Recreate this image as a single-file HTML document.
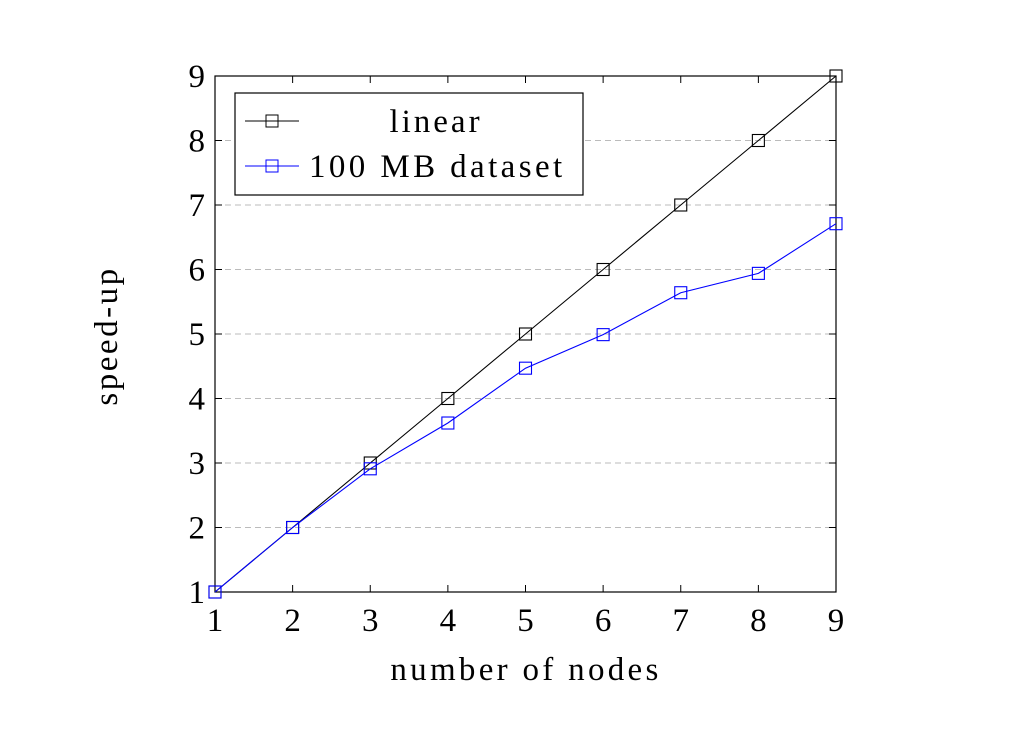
<!DOCTYPE html>
<html><head><meta charset="utf-8"><style>
body{margin:0;background:#fff;}
svg{display:block;font-family:"Liberation Serif",serif;}
</style></head><body>
<svg id="chart" width="1010" height="737">
<g id="grid"></g>
<g id="ticks"></g>
<rect x="215" y="76" width="621" height="516" fill="none" stroke="#000" stroke-width="1.2"/>
<g id="series"></g>
<g id="labels" font-size="33"></g>
<text x="526" y="680" font-size="33" letter-spacing="3.3" text-anchor="middle">number of nodes</text>
<text transform="translate(117,336) rotate(-90)" font-size="33" letter-spacing="2.5" text-anchor="middle">speed-up</text>
<g>
<rect x="235" y="93" width="348" height="102" fill="#fff" stroke="#000" stroke-width="1.2"/>
<g>
<line x1="245" y1="121" x2="299" y2="121" stroke="#000" stroke-width="1"/>
<rect x="266" y="115" width="12" height="12" fill="none" stroke="#000" stroke-width="1"/>
<text x="436" y="132" font-size="33" letter-spacing="3" text-anchor="middle">linear</text>
</g>
<g>
<line x1="245" y1="166" x2="299" y2="166" stroke="#00f" stroke-width="1"/>
<rect x="266" y="160" width="12" height="12" fill="none" stroke="#00f" stroke-width="1"/>
<text x="309" y="177" font-size="33" letter-spacing="3.4">100 MB dataset</text>
</g>
</g>
</svg>
<script>
const nodes=[1,2,3,4,5,6,7,8,9];
const linearVals=[1,2,3,4,5,6,7,8,9];
const datasetVals=[1,2,2.91,3.62,4.47,4.99,5.64,5.94,6.71];
const xTicks=[1,2,3,4,5,6,7,8,9];
const yTicks=[1,2,3,4,5,6,7,8,9];
const NS="http://www.w3.org/2000/svg";
const X=v=>215+(v-1)*(621/8);
const Y=v=>592-(v-1)*(516/8);
function mk(t,a,p){const e=document.createElementNS(NS,t);for(const k in a)e.setAttribute(k,a[k]);p.appendChild(e);return e;}
const grid=document.getElementById('grid'),ticks=document.getElementById('ticks'),labels=document.getElementById('labels'),series=document.getElementById('series');
yTicks.forEach(v=>{
 if(v>1&&v<9){const g=mk('line',{x1:215,x2:836,y1:Y(v),y2:Y(v),stroke:'#bbb','stroke-width':1,'stroke-dasharray':'6,4'},grid);
 
 }
 mk('line',{x1:215,x2:222,y1:Y(v),y2:Y(v),stroke:'#000'},ticks);
 mk('line',{x1:829,x2:836,y1:Y(v),y2:Y(v),stroke:'#000'},ticks);
 const t=mk('text',{x:205,y:Y(v)+11,'text-anchor':'end'},labels);t.textContent=v;
 
 
});
xTicks.forEach(v=>{
 mk('line',{x1:X(v),x2:X(v),y1:592,y2:585,stroke:'#000'},ticks);
 mk('line',{x1:X(v),x2:X(v),y1:76,y2:83,stroke:'#000'},ticks);
 const t=mk('text',{x:X(v),y:631,'text-anchor':'middle'},labels);t.textContent=v;
 
 
});
function draw(vals,color,name){
 const pts=nodes.map((n,i)=>X(n)+','+Y(vals[i])).join(' ');
 const pl=mk('polyline',{points:pts,fill:'none',stroke:color,'stroke-width':1.1},series);
 
 
 nodes.forEach((n,i)=>{
  const r=mk('rect',{x:X(n)-6,y:Y(vals[i])-6,width:12,height:12,fill:'none',stroke:color,'stroke-width':1.1},series);
  
  
 });
}
draw(linearVals,'#000','linear');
draw(datasetVals,'#00f','dataset');
</script>
</body></html>
